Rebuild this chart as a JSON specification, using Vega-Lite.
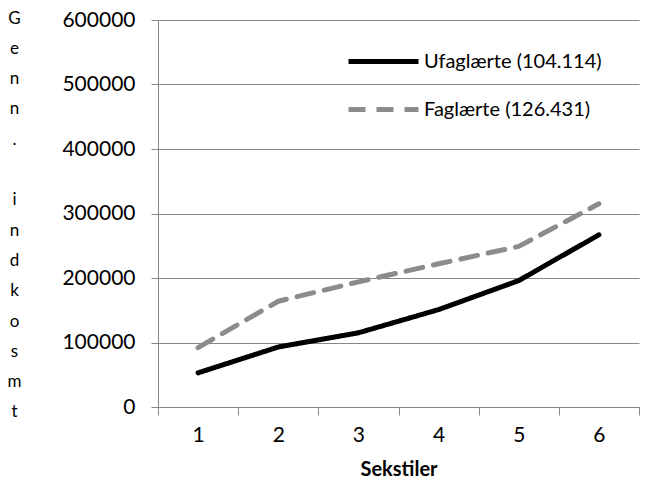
{
  "$schema": "https://vega.github.io/schema/vega-lite/v6.json",
  "width": 481,
  "height": 387,
  "autosize": {"type": "none"},
  "padding": {"left": 158, "top": 20, "right": 7, "bottom": 74},
  "background": "white",
  "config": {
    "font": "Lato",
    "view": {"stroke": null},
    "axis": {"labelFont": "Lato", "titleFont": "Lato"}
  },
  "data": {
    "values": [
      {"sekstil": "1", "serie": "Ufaglærte (104.114)", "indkomst": 53000},
      {"sekstil": "2", "serie": "Ufaglærte (104.114)", "indkomst": 93000},
      {"sekstil": "3", "serie": "Ufaglærte (104.114)", "indkomst": 115000},
      {"sekstil": "4", "serie": "Ufaglærte (104.114)", "indkomst": 151000},
      {"sekstil": "5", "serie": "Ufaglærte (104.114)", "indkomst": 196000},
      {"sekstil": "6", "serie": "Ufaglærte (104.114)", "indkomst": 267000},
      {"sekstil": "1", "serie": "Faglærte (126.431)", "indkomst": 92000},
      {"sekstil": "2", "serie": "Faglærte (126.431)", "indkomst": 164000},
      {"sekstil": "3", "serie": "Faglærte (126.431)", "indkomst": 194000},
      {"sekstil": "4", "serie": "Faglærte (126.431)", "indkomst": 222000},
      {"sekstil": "5", "serie": "Faglærte (126.431)", "indkomst": 249000},
      {"sekstil": "6", "serie": "Faglærte (126.431)", "indkomst": 315000}
    ]
  },
  "mark": {"type": "line", "strokeWidth": 5, "strokeCap": "round", "strokeJoin": "round"},
  "encoding": {
    "x": {
      "field": "sekstil",
      "type": "ordinal",
      "scale": {"paddingInner": 0, "paddingOuter": 0},
      "axis": {
        "title": "Sekstiler",
        "titleFontSize": 20,
        "titleFontWeight": "bold",
        "titleColor": "black",
        "titlePadding": 14,
        "labelAngle": 0,
        "labelFontSize": 21,
        "labelColor": "black",
        "labelPadding": 9,
        "tickBand": "extent",
        "tickSize": 8,
        "tickColor": "#868686",
        "domainColor": "#868686",
        "grid": false
      }
    },
    "y": {
      "field": "indkomst",
      "type": "quantitative",
      "scale": {"domain": [0, 600000]},
      "axis": {
        "values": [0, 100000, 200000, 300000, 400000, 500000, 600000],
        "format": "d",
        "labelFontSize": 21,
        "labelColor": "black",
        "labelPadding": 16,
        "tickSize": 7,
        "tickColor": "#868686",
        "domainColor": "#868686",
        "gridColor": "#868686",
        "gridOpacity": 1,
        "title": ["G", "e", "n", "n", ".", "\u2800", "i", "n", "d", "k", "o", "s", "m", "t"],
        "titleAngle": 0,
        "titleFontSize": 17,
        "titleFontWeight": "normal",
        "titleColor": "black",
        "titleAlign": "center",
        "titleBaseline": "top",
        "titleLineHeight": 30.3,
        "titleX": -144,
        "titleY": -10
      }
    },
    "color": {
      "field": "serie",
      "type": "nominal",
      "scale": {"domain": ["Ufaglærte (104.114)", "Faglærte (126.431)"], "range": ["#000000", "#8c8c8c"]},
      "legend": {
        "title": null,
        "orient": "none",
        "legendX": 188,
        "legendY": 4,
        "symbolType": "stroke",
        "symbolSize": 4900,
        "symbolStrokeWidth": 5,
        "labelFontSize": 20,
        "labelColor": "black",
        "labelLimit": 300,
        "rowPadding": -1,
        "labelOffset": 3
      }
    },
    "strokeDash": {
      "field": "serie",
      "type": "nominal",
      "scale": {"domain": ["Ufaglærte (104.114)", "Faglærte (126.431)"], "range": [[1, 0], [17, 11]]},
      "legend": null
    }
  }
}
